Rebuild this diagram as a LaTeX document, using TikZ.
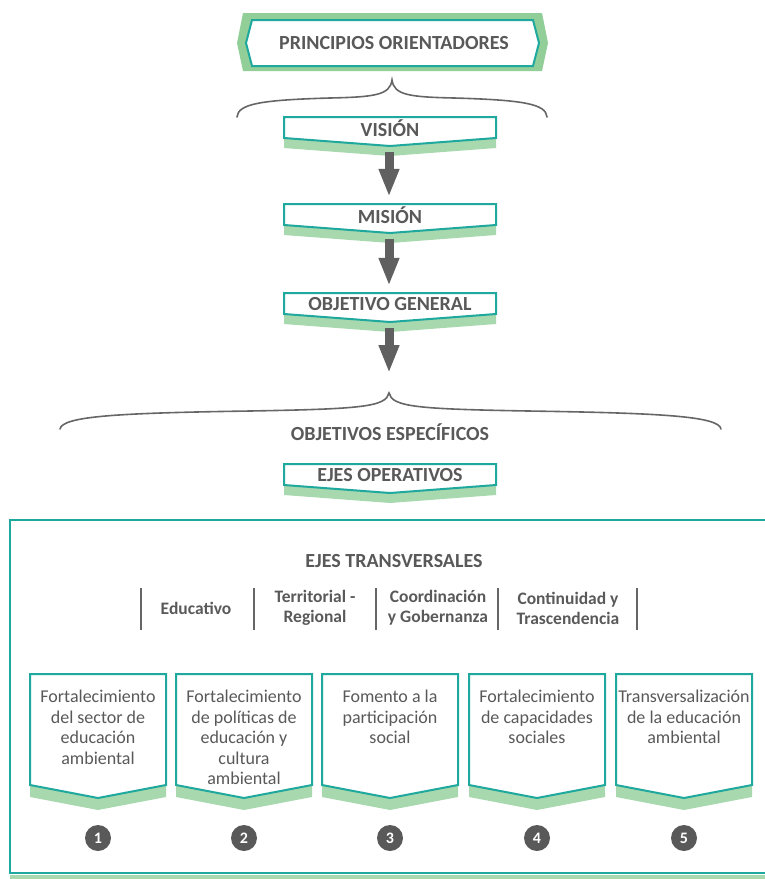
\documentclass[tikz,border=0pt]{standalone}
\usepackage{fontspec}
\setmainfont{Carlito}
\usetikzlibrary{arrows.meta,positioning}

\definecolor{tealline}{RGB}{30,168,158}
\definecolor{shadegreen}{RGB}{168,216,174}
\definecolor{hexgreen}{RGB}{146,206,152}
\definecolor{txtgray}{RGB}{89,89,89}
\definecolor{arrgray}{RGB}{96,96,96}
\definecolor{bargray}{RGB}{102,102,102}

% chevron box: centre x, top, half width, side height, notch, shadow offset
\newcommand{\chevron}[6]{%
  \fill[shadegreen] (#1-#3,#2+#6) -- (#1+#3,#2+#6) -- (#1+#3,#2+#4+#6) -- (#1,#2+#4+#5+#6) -- (#1-#3,#2+#4+#6) -- cycle;
  \draw[tealline, line width=2pt, fill=white] (#1-#3,#2) -- (#1+#3,#2) -- (#1+#3,#2+#4) -- (#1,#2+#4+#5) -- (#1-#3,#2+#4) -- cycle;
}

\tikzset{
  lbl/.style={font=\bfseries\fontsize{20}{22}\selectfont, text=txtgray, inner sep=0pt},
  boxtxt/.style={font=\fontsize{18}{20.5}\selectfont, text=txtgray, align=center, inner sep=0pt},
  ejetxt/.style={font=\bfseries\fontsize{17.5}{20}\selectfont, text=txtgray, align=center, inner sep=0pt},
  num/.style={circle, fill=txtgray, text=white, font=\bfseries\fontsize{16}{16}\selectfont, minimum size=26pt, inner sep=0pt},
  bigarrow/.style={draw=arrgray, line width=9pt, -{Triangle[width=19pt,length=28pt]}},
  bar/.style={draw=bargray, line width=2.5pt},
  brace/.style={draw=bargray, line width=1.6pt, line cap=round}
}

\begin{document}
\begin{tikzpicture}[x=1pt,y=-1pt]
  \useasboundingbox (0,0) rectangle (764,879);

  % top banner
  \fill[hexgreen] (237,43) -- (243,13) -- (542,13) -- (548,43) -- (542,71) -- (243,71) -- cycle;
  \draw[tealline, line width=2pt, fill=white] (246,43) -- (252,20) -- (533,20) -- (539,43) -- (533,66) -- (252,66) -- cycle;
  \node[lbl] (principios) at (394,43) {PRINCIPIOS ORIENTADORES};

  % braces
  \draw[brace] (237,117) .. controls (238,104) and (260,100) .. (330,98)
    .. controls (375,97) and (390,95) .. (392,80)
    .. controls (394,95) and (409,97) .. (454,98)
    .. controls (524,100) and (546,104) .. (547,117);
  \draw[brace] (60,429) .. controls (62,416) and (120,413) .. (250,411)
    .. controls (360,409) and (386,407) .. (389,393)
    .. controls (392,407) and (418,409) .. (528,411)
    .. controls (658,413) and (719,416) .. (721,429);

  % small boxes
  \chevron{390}{117}{106}{21}{8}{10}
  \chevron{390}{204}{106}{21}{8}{10}
  \chevron{390}{293}{106}{21}{8}{10}
  \chevron{390}{464}{106}{21}{8}{10}
  \node[lbl, minimum width=212pt, minimum height=21pt] (vision) at (390,128.5) {VISIÓN};
  \node[lbl, minimum width=212pt, minimum height=21pt] (mision) at (390,215.5) {MISIÓN};
  \node[lbl, minimum width=212pt, minimum height=21pt] (general) at (390,304.5) {OBJETIVO GENERAL};
  \node[lbl] (especificos) at (390,432) {OBJETIVOS ESPECÍFICOS};
  \node[lbl, minimum width=212pt, minimum height=21pt] (operativos) at (390,475.5) {EJES OPERATIVOS};
  \coordinate (llegada) at (389,373);

  \draw[bigarrow] ([yshift=-13pt]vision.south -| 389,0) -- ([yshift=8pt]mision.north -| 389,0);
  \draw[bigarrow] ([yshift=-13pt]mision.south -| 389,0) -- ([yshift=8pt]general.north -| 389,0);
  \draw[bigarrow] ([yshift=-13pt]general.south -| 389,0) -- (llegada);

  % frame
  \fill[shadegreen] (10,875) rectangle (790,885);
  \draw[tealline, line width=2.5pt] (10,520) rectangle (790,873);

  \node[lbl] (transversales) at (394,561) {EJES TRANSVERSALES};
  \foreach \bx in {141,254,376,498,637}
    \draw[bar] (\bx,588) -- (\bx,630);
  \node[ejetxt] (educativo) at (196,608) {Educativo};
  \node[ejetxt] (territorial) at (315,608) {Territorial -\\Regional};
  \node[ejetxt] (coordinacion) at (438,608) {Coordinación\\y Gobernanza};
  \node[ejetxt] (continuidad) at (568,608) {Continuidad y\\Trascendencia};

  % operative axes
  \foreach \cx/\txt [count=\i] in {98/{Fortalecimiento\\del sector de\\educación\\ambiental},
      244/{Fortalecimiento\\de políticas de\\educación y\\cultura\\ambiental},
      390/{Fomento a la\\participación\\social},
      537/{Fortalecimiento\\de capacidades\\sociales},
      684/{Transversalización\\de la educación\\ambiental}}{
    \chevron{\cx}{674}{68}{111}{13}{12}
    \node[boxtxt, anchor=north] (eje\i) at (\cx,690) {\txt};
    \node[num] (n\i) at (\cx,838) {\i};
  }
\end{tikzpicture}
\end{document}
